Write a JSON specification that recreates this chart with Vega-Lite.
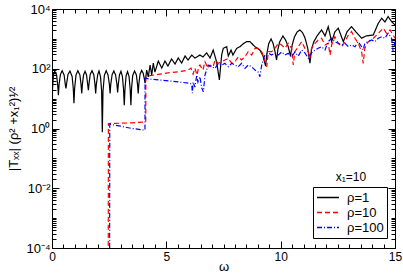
{
"$schema": "https://vega.github.io/schema/vega-lite/v6.json",
"width": 343, "height": 239,
"autosize": {"type": "none"},
"padding": {"left": 52, "top": 9, "right": 8, "bottom": 25},
"config": {
 "view": {"stroke": "black", "strokeWidth": 1},
 "font": "Liberation Sans",
 "axis": {"domain": false, "grid": false, "tickColor": "black", "tickWidth": 1, "labelColor": "black", "titleColor": "black", "labelFont": "Liberation Sans", "labelFontSize": 12, "titleFont": "Liberation Sans", "titleFontWeight": "normal", "titleFontSize": 12, "labelOverlap": false, "labelFlush": false}
},
"datasets": {"curves": [
{"omega":0,"T":0.00001,"rho":"ρ=1"},{"omega":0.02,"T":20,"rho":"ρ=1"},{"omega":0.06,"T":60,"rho":"ρ=1"},{"omega":0.12,"T":82,"rho":"ρ=1"},{"omega":0.2,"T":62,"rho":"ρ=1"},{"omega":0.25,"T":28,"rho":"ρ=1"},{"omega":0.28,"T":13,"rho":"ρ=1"},{"omega":0.31,"T":30,"rho":"ρ=1"},{"omega":0.37,"T":65,"rho":"ρ=1"},{"omega":0.445,"T":86,"rho":"ρ=1"},{"omega":0.53,"T":62,"rho":"ρ=1"},{"omega":0.58,"T":30,"rho":"ρ=1"},{"omega":0.61,"T":22,"rho":"ρ=1"},{"omega":0.64,"T":32,"rho":"ρ=1"},{"omega":0.7,"T":65,"rho":"ρ=1"},{"omega":0.785,"T":84,"rho":"ρ=1"},{"omega":0.88,"T":55,"rho":"ρ=1"},{"omega":0.93,"T":22,"rho":"ρ=1"},{"omega":0.96,"T":7,"rho":"ρ=1"},{"omega":0.99,"T":22,"rho":"ρ=1"},{"omega":1.05,"T":62,"rho":"ρ=1"},{"omega":1.13,"T":86,"rho":"ρ=1"},{"omega":1.22,"T":62,"rho":"ρ=1"},{"omega":1.27,"T":30,"rho":"ρ=1"},{"omega":1.3,"T":15,"rho":"ρ=1"},{"omega":1.33,"T":30,"rho":"ρ=1"},{"omega":1.38,"T":62,"rho":"ρ=1"},{"omega":1.445,"T":82,"rho":"ρ=1"},{"omega":1.51,"T":62,"rho":"ρ=1"},{"omega":1.56,"T":30,"rho":"ρ=1"},{"omega":1.59,"T":19,"rho":"ρ=1"},{"omega":1.62,"T":32,"rho":"ρ=1"},{"omega":1.67,"T":64,"rho":"ρ=1"},{"omega":1.75,"T":86,"rho":"ρ=1"},{"omega":1.83,"T":62,"rho":"ρ=1"},{"omega":1.88,"T":30,"rho":"ρ=1"},{"omega":1.91,"T":15,"rho":"ρ=1"},{"omega":1.94,"T":30,"rho":"ρ=1"},{"omega":2.0,"T":64,"rho":"ρ=1"},{"omega":2.055,"T":84,"rho":"ρ=1"},{"omega":2.12,"T":55,"rho":"ρ=1"},{"omega":2.17,"T":18,"rho":"ρ=1"},{"omega":2.2,"T":0.75,"rho":"ρ=1"},{"omega":2.23,"T":18,"rho":"ρ=1"},{"omega":2.29,"T":60,"rho":"ρ=1"},{"omega":2.37,"T":86,"rho":"ρ=1"},{"omega":2.45,"T":62,"rho":"ρ=1"},{"omega":2.51,"T":30,"rho":"ρ=1"},{"omega":2.54,"T":15,"rho":"ρ=1"},{"omega":2.57,"T":30,"rho":"ρ=1"},{"omega":2.63,"T":64,"rho":"ρ=1"},{"omega":2.705,"T":84,"rho":"ρ=1"},{"omega":2.78,"T":62,"rho":"ρ=1"},{"omega":2.84,"T":30,"rho":"ρ=1"},{"omega":2.87,"T":16,"rho":"ρ=1"},{"omega":2.9,"T":30,"rho":"ρ=1"},{"omega":2.95,"T":62,"rho":"ρ=1"},{"omega":3.015,"T":82,"rho":"ρ=1"},{"omega":3.08,"T":55,"rho":"ρ=1"},{"omega":3.13,"T":20,"rho":"ρ=1"},{"omega":3.16,"T":6,"rho":"ρ=1"},{"omega":3.19,"T":20,"rho":"ρ=1"},{"omega":3.24,"T":58,"rho":"ρ=1"},{"omega":3.305,"T":80,"rho":"ρ=1"},{"omega":3.37,"T":55,"rho":"ρ=1"},{"omega":3.42,"T":20,"rho":"ρ=1"},{"omega":3.45,"T":6,"rho":"ρ=1"},{"omega":3.48,"T":22,"rho":"ρ=1"},{"omega":3.53,"T":60,"rho":"ρ=1"},{"omega":3.61,"T":84,"rho":"ρ=1"},{"omega":3.69,"T":62,"rho":"ρ=1"},{"omega":3.74,"T":30,"rho":"ρ=1"},{"omega":3.77,"T":15,"rho":"ρ=1"},{"omega":3.8,"T":32,"rho":"ρ=1"},{"omega":3.85,"T":65,"rho":"ρ=1"},{"omega":3.92,"T":88,"rho":"ρ=1"},{"omega":3.99,"T":70,"rho":"ρ=1"},{"omega":4.04,"T":45,"rho":"ρ=1"},{"omega":4.07,"T":33,"rho":"ρ=1"},{"omega":4.14,"T":90,"rho":"ρ=1"},{"omega":4.21,"T":53,"rho":"ρ=1"},{"omega":4.29,"T":133,"rho":"ρ=1"},{"omega":4.36,"T":62,"rho":"ρ=1"},{"omega":4.43,"T":155,"rho":"ρ=1"},{"omega":4.5,"T":77,"rho":"ρ=1"},{"omega":4.65,"T":181,"rho":"ρ=1"},{"omega":4.8,"T":105,"rho":"ρ=1"},{"omega":4.94,"T":181,"rho":"ρ=1"},{"omega":5.07,"T":123,"rho":"ρ=1"},{"omega":5.23,"T":212,"rho":"ρ=1"},{"omega":5.38,"T":144,"rho":"ρ=1"},{"omega":5.52,"T":229,"rho":"ρ=1"},{"omega":5.67,"T":155,"rho":"ρ=1"},{"omega":5.82,"T":267,"rho":"ρ=1"},{"omega":5.95,"T":196,"rho":"ρ=1"},{"omega":6.11,"T":288,"rho":"ρ=1"},{"omega":6.25,"T":229,"rho":"ρ=1"},{"omega":6.47,"T":288,"rho":"ρ=1"},{"omega":6.6,"T":247,"rho":"ρ=1"},{"omega":6.76,"T":340,"rho":"ρ=1"},{"omega":6.91,"T":229,"rho":"ρ=1"},{"omega":7.05,"T":424,"rho":"ρ=1"},{"omega":7.2,"T":168,"rho":"ρ=1"},{"omega":7.32,"T":42,"rho":"ρ=1"},{"omega":7.42,"T":288,"rho":"ρ=1"},{"omega":7.49,"T":484,"rho":"ρ=1"},{"omega":7.64,"T":547,"rho":"ρ=1"},{"omega":7.71,"T":267,"rho":"ρ=1"},{"omega":7.83,"T":424,"rho":"ρ=1"},{"omega":7.91,"T":288,"rho":"ρ=1"},{"omega":8.08,"T":484,"rho":"ρ=1"},{"omega":8.22,"T":547,"rho":"ρ=1"},{"omega":8.35,"T":674,"rho":"ρ=1"},{"omega":8.51,"T":806,"rho":"ρ=1"},{"omega":8.66,"T":806,"rho":"ρ=1"},{"omega":8.8,"T":624,"rho":"ρ=1"},{"omega":8.88,"T":547,"rho":"ρ=1"},{"omega":9.09,"T":424,"rho":"ρ=1"},{"omega":9.23,"T":267,"rho":"ρ=1"},{"omega":9.34,"T":123,"rho":"ρ=1"},{"omega":9.4,"T":330,"rho":"ρ=1"},{"omega":9.48,"T":700,"rho":"ρ=1"},{"omega":9.58,"T":993,"rho":"ρ=1"},{"omega":9.67,"T":700,"rho":"ρ=1"},{"omega":9.75,"T":380,"rho":"ρ=1"},{"omega":9.82,"T":196,"rho":"ρ=1"},{"omega":9.88,"T":450,"rho":"ρ=1"},{"omega":9.96,"T":800,"rho":"ρ=1"},{"omega":10.1,"T":1250,"rho":"ρ=1"},{"omega":10.22,"T":900,"rho":"ρ=1"},{"omega":10.33,"T":550,"rho":"ρ=1"},{"omega":10.43,"T":267,"rho":"ρ=1"},{"omega":10.5,"T":600,"rho":"ρ=1"},{"omega":10.6,"T":1150,"rho":"ρ=1"},{"omega":10.72,"T":1700,"rho":"ρ=1"},{"omega":10.84,"T":1990,"rho":"ρ=1"},{"omega":10.96,"T":1600,"rho":"ρ=1"},{"omega":11.06,"T":1100,"rho":"ρ=1"},{"omega":11.18,"T":500,"rho":"ρ=1"},{"omega":11.28,"T":155,"rho":"ρ=1"},{"omega":11.35,"T":450,"rho":"ρ=1"},{"omega":11.45,"T":800,"rho":"ρ=1"},{"omega":11.59,"T":1250,"rho":"ρ=1"},{"omega":11.79,"T":1990,"rho":"ρ=1"},{"omega":11.94,"T":1250,"rho":"ρ=1"},{"omega":12.08,"T":2570,"rho":"ρ=1"},{"omega":12.23,"T":806,"rho":"ρ=1"},{"omega":12.37,"T":1710,"rho":"ρ=1"},{"omega":12.52,"T":2270,"rho":"ρ=1"},{"omega":12.74,"T":806,"rho":"ρ=1"},{"omega":12.9,"T":1710,"rho":"ρ=1"},{"omega":13.1,"T":2570,"rho":"ρ=1"},{"omega":13.29,"T":1710,"rho":"ρ=1"},{"omega":13.54,"T":1050,"rho":"ρ=1"},{"omega":13.73,"T":1250,"rho":"ρ=1"},{"omega":14.05,"T":1350,"rho":"ρ=1"},{"omega":14.27,"T":3340,"rho":"ρ=1"},{"omega":14.42,"T":4910,"rho":"ρ=1"},{"omega":14.56,"T":3690,"rho":"ρ=1"},{"omega":14.7,"T":5560,"rho":"ρ=1"},{"omega":14.85,"T":3780,"rho":"ρ=1"},{"omega":15,"T":2930,"rho":"ρ=1"},
{"omega":2.46,"T":0.00001,"rho":"ρ=10"},{"omega":2.465,"T":1.47,"rho":"ρ=10"},{"omega":3.0,"T":1.5,"rho":"ρ=10"},{"omega":3.5,"T":1.55,"rho":"ρ=10"},{"omega":4.1,"T":1.67,"rho":"ρ=10"},{"omega":4.105,"T":52.6,"rho":"ρ=10"},{"omega":4.29,"T":59,"rho":"ρ=10"},{"omega":4.72,"T":66,"rho":"ρ=10"},{"omega":5.16,"T":74.5,"rho":"ρ=10"},{"omega":5.6,"T":80.5,"rho":"ρ=10"},{"omega":5.95,"T":90,"rho":"ρ=10"},{"omega":6.08,"T":105,"rho":"ρ=10"},{"omega":6.17,"T":66,"rho":"ρ=10"},{"omega":6.25,"T":105,"rho":"ρ=10"},{"omega":6.34,"T":61.5,"rho":"ρ=10"},{"omega":6.43,"T":123,"rho":"ρ=10"},{"omega":6.47,"T":133,"rho":"ρ=10"},{"omega":6.6,"T":90,"rho":"ρ=10"},{"omega":6.69,"T":172,"rho":"ρ=10"},{"omega":6.82,"T":105,"rho":"ρ=10"},{"omega":6.91,"T":133,"rho":"ρ=10"},{"omega":7.04,"T":112,"rho":"ρ=10"},{"omega":7.13,"T":196,"rho":"ρ=10"},{"omega":7.27,"T":152,"rho":"ρ=10"},{"omega":7.42,"T":172,"rho":"ρ=10"},{"omega":7.56,"T":196,"rho":"ρ=10"},{"omega":7.71,"T":223,"rho":"ρ=10"},{"omega":7.86,"T":152,"rho":"ρ=10"},{"omega":8.0,"T":172,"rho":"ρ=10"},{"omega":8.15,"T":253,"rho":"ρ=10"},{"omega":8.29,"T":196,"rho":"ρ=10"},{"omega":8.44,"T":253,"rho":"ρ=10"},{"omega":8.58,"T":372,"rho":"ρ=10"},{"omega":8.73,"T":288,"rho":"ρ=10"},{"omega":8.88,"T":484,"rho":"ρ=10"},{"omega":9.02,"T":484,"rho":"ρ=10"},{"omega":9.17,"T":372,"rho":"ρ=10"},{"omega":9.28,"T":223,"rho":"ρ=10"},{"omega":9.39,"T":117,"rho":"ρ=10"},{"omega":9.46,"T":372,"rho":"ρ=10"},{"omega":9.6,"T":372,"rho":"ρ=10"},{"omega":9.75,"T":484,"rho":"ρ=10"},{"omega":9.9,"T":712,"rho":"ρ=10"},{"omega":10.04,"T":624,"rho":"ρ=10"},{"omega":10.19,"T":484,"rho":"ρ=10"},{"omega":10.33,"T":712,"rho":"ρ=10"},{"omega":10.48,"T":484,"rho":"ρ=10"},{"omega":10.55,"T":133,"rho":"ρ=10"},{"omega":10.62,"T":372,"rho":"ρ=10"},{"omega":10.77,"T":547,"rho":"ρ=10"},{"omega":10.92,"T":806,"rho":"ρ=10"},{"omega":11.06,"T":484,"rho":"ρ=10"},{"omega":11.21,"T":372,"rho":"ρ=10"},{"omega":11.28,"T":223,"rho":"ρ=10"},{"omega":11.35,"T":484,"rho":"ρ=10"},{"omega":11.5,"T":712,"rho":"ρ=10"},{"omega":11.64,"T":919,"rho":"ρ=10"},{"omega":11.79,"T":1050,"rho":"ρ=10"},{"omega":11.94,"T":624,"rho":"ρ=10"},{"omega":12.08,"T":712,"rho":"ρ=10"},{"omega":12.16,"T":288,"rho":"ρ=10"},{"omega":12.23,"T":624,"rho":"ρ=10"},{"omega":12.37,"T":1190,"rho":"ρ=10"},{"omega":12.52,"T":712,"rho":"ρ=10"},{"omega":12.67,"T":547,"rho":"ρ=10"},{"omega":12.81,"T":806,"rho":"ρ=10"},{"omega":12.96,"T":1350,"rho":"ρ=10"},{"omega":13.1,"T":1750,"rho":"ρ=10"},{"omega":13.25,"T":1050,"rho":"ρ=10"},{"omega":13.39,"T":712,"rho":"ρ=10"},{"omega":13.54,"T":372,"rho":"ρ=10"},{"omega":13.61,"T":152,"rho":"ρ=10"},{"omega":13.68,"T":484,"rho":"ρ=10"},{"omega":13.83,"T":806,"rho":"ρ=10"},{"omega":14.05,"T":1050,"rho":"ρ=10"},{"omega":14.2,"T":1350,"rho":"ρ=10"},{"omega":14.34,"T":1750,"rho":"ρ=10"},{"omega":14.49,"T":2270,"rho":"ρ=10"},{"omega":14.63,"T":1540,"rho":"ρ=10"},{"omega":14.78,"T":1990,"rho":"ρ=10"},{"omega":14.92,"T":1350,"rho":"ρ=10"},{"omega":15,"T":1050,"rho":"ρ=10"},
{"omega":2.52,"T":0.00001,"rho":"ρ=100"},{"omega":2.525,"T":1.39,"rho":"ρ=100"},{"omega":3.0,"T":1.2,"rho":"ρ=100"},{"omega":3.5,"T":1.0,"rho":"ρ=100"},{"omega":4.065,"T":0.88,"rho":"ρ=100"},{"omega":4.07,"T":48.7,"rho":"ρ=100"},{"omega":4.29,"T":45,"rho":"ρ=100"},{"omega":4.72,"T":41.8,"rho":"ρ=100"},{"omega":5.16,"T":38.7,"rho":"ρ=100"},{"omega":5.6,"T":35.8,"rho":"ρ=100"},{"omega":6.03,"T":32.4,"rho":"ρ=100"},{"omega":6.11,"T":30,"rho":"ρ=100"},{"omega":6.14,"T":15.3,"rho":"ρ=100"},{"omega":6.17,"T":35.8,"rho":"ρ=100"},{"omega":6.25,"T":24.3,"rho":"ρ=100"},{"omega":6.33,"T":61.5,"rho":"ρ=100"},{"omega":6.38,"T":35.8,"rho":"ρ=100"},{"omega":6.47,"T":54,"rho":"ρ=100"},{"omega":6.55,"T":22.5,"rho":"ρ=100"},{"omega":6.62,"T":16.9,"rho":"ρ=100"},{"omega":6.69,"T":61.5,"rho":"ρ=100"},{"omega":6.83,"T":133,"rho":"ρ=100"},{"omega":6.98,"T":117,"rho":"ρ=100"},{"omega":7.13,"T":103,"rho":"ρ=100"},{"omega":7.27,"T":152,"rho":"ρ=100"},{"omega":7.42,"T":133,"rho":"ρ=100"},{"omega":7.56,"T":152,"rho":"ρ=100"},{"omega":7.71,"T":117,"rho":"ρ=100"},{"omega":7.86,"T":152,"rho":"ρ=100"},{"omega":8.0,"T":133,"rho":"ρ=100"},{"omega":8.15,"T":117,"rho":"ρ=100"},{"omega":8.29,"T":152,"rho":"ρ=100"},{"omega":8.44,"T":103,"rho":"ρ=100"},{"omega":8.58,"T":133,"rho":"ρ=100"},{"omega":8.73,"T":117,"rho":"ρ=100"},{"omega":8.88,"T":90,"rho":"ρ=100"},{"omega":9.02,"T":77,"rho":"ρ=100"},{"omega":9.09,"T":54,"rho":"ρ=100"},{"omega":9.17,"T":133,"rho":"ρ=100"},{"omega":9.31,"T":288,"rho":"ρ=100"},{"omega":9.46,"T":340,"rho":"ρ=100"},{"omega":9.6,"T":288,"rho":"ρ=100"},{"omega":9.75,"T":340,"rho":"ρ=100"},{"omega":9.9,"T":288,"rho":"ρ=100"},{"omega":10.04,"T":363,"rho":"ρ=100"},{"omega":10.19,"T":288,"rho":"ρ=100"},{"omega":10.33,"T":329,"rho":"ρ=100"},{"omega":10.48,"T":247,"rho":"ρ=100"},{"omega":10.62,"T":363,"rho":"ρ=100"},{"omega":10.77,"T":267,"rho":"ρ=100"},{"omega":10.92,"T":424,"rho":"ρ=100"},{"omega":11.06,"T":340,"rho":"ρ=100"},{"omega":11.21,"T":223,"rho":"ρ=100"},{"omega":11.35,"T":340,"rho":"ρ=100"},{"omega":11.5,"T":424,"rho":"ρ=100"},{"omega":11.64,"T":484,"rho":"ρ=100"},{"omega":11.79,"T":547,"rho":"ρ=100"},{"omega":11.94,"T":424,"rho":"ρ=100"},{"omega":12.08,"T":806,"rho":"ρ=100"},{"omega":12.23,"T":1050,"rho":"ρ=100"},{"omega":12.37,"T":787,"rho":"ρ=100"},{"omega":12.52,"T":712,"rho":"ρ=100"},{"omega":12.67,"T":624,"rho":"ρ=100"},{"omega":12.81,"T":712,"rho":"ρ=100"},{"omega":12.96,"T":547,"rho":"ρ=100"},{"omega":13.1,"T":624,"rho":"ρ=100"},{"omega":13.25,"T":547,"rho":"ρ=100"},{"omega":13.39,"T":806,"rho":"ρ=100"},{"omega":13.54,"T":547,"rho":"ρ=100"},{"omega":13.61,"T":424,"rho":"ρ=100"},{"omega":13.68,"T":712,"rho":"ρ=100"},{"omega":13.83,"T":806,"rho":"ρ=100"},{"omega":13.98,"T":919,"rho":"ρ=100"},{"omega":14.12,"T":806,"rho":"ρ=100"},{"omega":14.27,"T":1050,"rho":"ρ=100"},{"omega":14.42,"T":1190,"rho":"ρ=100"},{"omega":14.56,"T":1050,"rho":"ρ=100"},{"omega":14.7,"T":1540,"rho":"ρ=100"},{"omega":14.85,"T":1050,"rho":"ρ=100"},{"omega":14.92,"T":372,"rho":"ρ=100"},{"omega":15,"T":806,"rho":"ρ=100"}
]},
"layer": [
 {
  "data": {"name": "curves"},
  "mark": {"type": "line", "strokeWidth": 1.2, "clip": true},
  "encoding": {
   "x": {"field": "omega", "type": "quantitative", "scale": {"domain": [0, 15], "nice": false},
    "axis": {"orient": "bottom", "values": [0, 5, 10, 15], "format": "d", "ticks": false, "labelPadding": 3,
     "title": "ω", "titleFontSize": 13, "titleY": 22, "titleBaseline": "alphabetic"}},
   "y": {"field": "T", "type": "quantitative", "scale": {"type": "log", "domain": [0.0001, 10000], "nice": false},
    "axis": {"orient": "left", "values": [0.0001, 0.01, 1, 100, 10000], "ticks": false, "labelFontSize": 13,
     "labelExpr": "datum.value === 10000 ? '10⁴' : datum.value === 100 ? '10²' : datum.value === 1 ? '10⁰' : datum.value === 0.01 ? '10⁻²' : '10⁻⁴'",
     "labelPadding": 2, "title": "|Tₓₓ| (ρ² +x₁²)¹⁄²", "titleFontSize": 13, "titlePadding": 5}},
   "color": {"field": "rho", "type": "nominal", "scale": {"domain": ["ρ=1", "ρ=10", "ρ=100"], "range": ["#000000", "#ff0000", "#0000ff"]},
    "legend": {"title": null, "orient": "none", "legendX": 261, "legendY": 178, "strokeColor": "black", "fillColor": "white", "padding": 3, "symbolType": "stroke", "symbolSize": 484, "symbolStrokeWidth": 1.3, "labelFontSize": 13, "labelFont": "Liberation Sans", "labelColor": "black", "labelOffset": 7, "clipHeight": 15, "rowPadding": 0, "cornerRadius": 0}},
   "strokeDash": {"field": "rho", "type": "nominal", "scale": {"domain": ["ρ=1", "ρ=10", "ρ=100"], "range": [[1, 0], [5, 3], [5, 2, 1, 2]]},
    "legend": {"title": null, "orient": "none", "legendX": 261, "legendY": 178, "strokeColor": "black", "fillColor": "white", "padding": 3, "symbolType": "stroke", "symbolSize": 484, "symbolStrokeWidth": 1.3, "labelFontSize": 13, "labelFont": "Liberation Sans", "labelColor": "black", "labelOffset": 7, "clipHeight": 15, "rowPadding": 0, "cornerRadius": 0}}
  }
 },
 {
  "data": {"values": [{"omega": 13.07, "T": 0.0232, "label": "x₁=10"}]},
  "mark": {"type": "text", "fontSize": 12, "font": "Liberation Sans", "align": "center", "baseline": "middle", "color": "black"},
  "encoding": {
   "x": {"field": "omega", "type": "quantitative", "scale": {"domain": [0, 15], "nice": false},
    "axis": {"orient": "bottom", "values": [0, 5, 10, 15], "labels": false, "title": null, "tickSize": 7, "offset": -7}},
   "y": {"field": "T", "type": "quantitative", "scale": {"type": "log", "domain": [0.0001, 10000], "nice": false},
    "axis": {"orient": "left", "values": [0.0001, 0.01, 1, 100, 10000], "labels": false, "title": null, "tickSize": 7, "offset": -7}},
   "text": {"field": "label"}
  }
 },
 {
  "data": {"name": "curves"},
  "mark": {"type": "point", "opacity": 0},
  "encoding": {
   "x": {"field": "omega", "type": "quantitative", "scale": {"domain": [0, 15], "nice": false},
    "axis": {"orient": "bottom", "values": [0.5,1,1.5,2,2.5,3,3.5,4,4.5,5.5,6,6.5,7,7.5,8,8.5,9,9.5,10.5,11,11.5,12,12.5,13,13.5,14,14.5], "labels": false, "title": null, "tickSize": 4, "offset": -4}},
   "y": {"field": "T", "type": "quantitative", "scale": {"type": "log", "domain": [0.0001, 10000], "nice": false},
    "axis": {"orient": "left", "values": [0.0002,0.0003,0.0004,0.0005,0.0006,0.0007,0.0008,0.0009,0.001,0.002,0.003,0.004,0.005,0.006,0.007,0.008,0.009,0.02,0.03,0.04,0.05,0.06,0.07,0.08,0.09,0.1,0.2,0.3,0.4,0.5,0.6,0.7,0.8,0.9,2,3,4,5,6,7,8,9,10,20,30,40,50,60,70,80,90,200,300,400,500,600,700,800,900,1000,2000,3000,4000,5000,6000,7000,8000,9000], "labels": false, "title": null, "tickSize": 4, "offset": -4}}
  }
 },
 {
  "data": {"name": "curves"},
  "mark": {"type": "point", "opacity": 0},
  "encoding": {
   "x": {"field": "omega", "type": "quantitative", "scale": {"domain": [0, 15], "nice": false},
    "axis": {"orient": "top", "values": [0, 5, 10, 15], "labels": false, "title": null, "tickSize": 7, "offset": -7}},
   "y": {"field": "T", "type": "quantitative", "scale": {"type": "log", "domain": [0.0001, 10000], "nice": false},
    "axis": {"orient": "right", "values": [0.0001, 0.01, 1, 100, 10000], "labels": false, "title": null, "tickSize": 7, "offset": -7}}
  }
 },
 {
  "data": {"name": "curves"},
  "mark": {"type": "point", "opacity": 0},
  "encoding": {
   "x": {"field": "omega", "type": "quantitative", "scale": {"domain": [0, 15], "nice": false},
    "axis": {"orient": "top", "values": [0.5,1,1.5,2,2.5,3,3.5,4,4.5,5.5,6,6.5,7,7.5,8,8.5,9,9.5,10.5,11,11.5,12,12.5,13,13.5,14,14.5], "labels": false, "title": null, "tickSize": 4, "offset": -4}},
   "y": {"field": "T", "type": "quantitative", "scale": {"type": "log", "domain": [0.0001, 10000], "nice": false},
    "axis": {"orient": "right", "values": [0.0002,0.0003,0.0004,0.0005,0.0006,0.0007,0.0008,0.0009,0.001,0.002,0.003,0.004,0.005,0.006,0.007,0.008,0.009,0.02,0.03,0.04,0.05,0.06,0.07,0.08,0.09,0.1,0.2,0.3,0.4,0.5,0.6,0.7,0.8,0.9,2,3,4,5,6,7,8,9,10,20,30,40,50,60,70,80,90,200,300,400,500,600,700,800,900,1000,2000,3000,4000,5000,6000,7000,8000,9000], "labels": false, "title": null, "tickSize": 4, "offset": -4}}
  }
 }
],
"resolve": {"axis": {"x": "independent", "y": "independent"}}
}
